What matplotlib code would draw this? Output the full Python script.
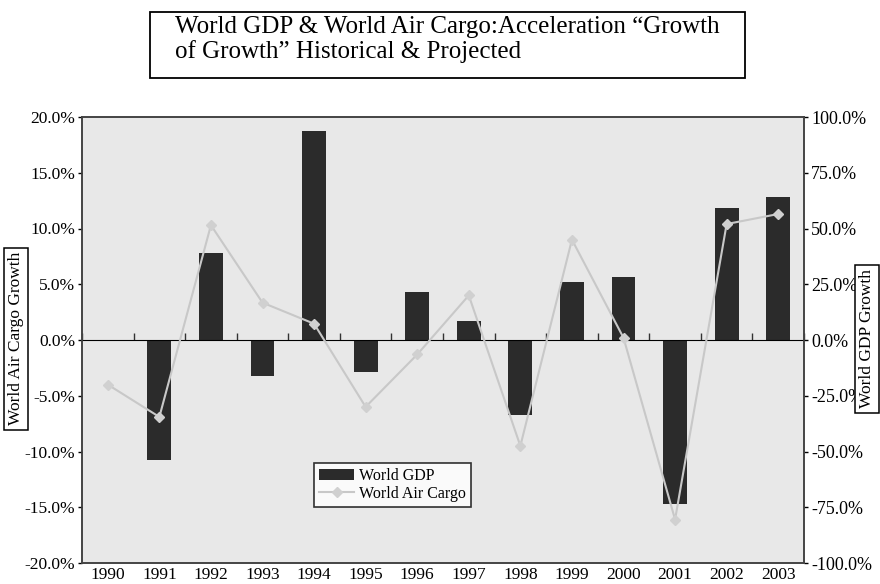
import matplotlib.pyplot as plt
import matplotlib.patches as patches
import numpy as np

plt.rcParams['font.family'] = ['Liberation Serif', 'DejaVu Serif']

# data
years = ['1990', '1991', '1992', '1993', '1994', '1995', '1996',
         '1997', '1998', '1999', '2000', '2001', '2002', '2003']
gdp = [0, -54, 39, -16, 93.5, -14.5, 21.5, 8.3, -33.5, 26, 28.3, -73.5, 59, 64]  # right axis, %
cargo = [-4.0, -6.9, 10.3, 3.35, 1.46, -6.0, -1.3, 4.0, -9.5, 9.0, 0.2, -16.1, 10.4, 11.3]  # left axis, %
left_ticks = [-20, -15, -10, -5, 0, 5, 10, 15, 20]
right_ticks = [-100, -75, -50, -25, 0, 25, 50, 75, 100]

fig = plt.figure(figsize=(8.8, 5.84), dpi=100)
ax = fig.add_axes([82/880, 21/584, 722/880, 446/584])
ax2 = ax.twinx()

x = np.arange(len(years))
ax.set_zorder(ax2.get_zorder() + 1)
ax.patch.set_visible(False)
ax2.patch.set_visible(True)
ax2.patch.set_facecolor('#e8e8e8')

# bars (GDP) on right axis
ax2.bar(x, gdp, width=0.46, color='#2b2b2b', label='World GDP', zorder=2)
# line (air cargo) on left axis
ax.plot(x, cargo, color='#c8c8c8', lw=1.5, marker='D', ms=5.5,
        mfc='#d0d0d0', mec='#d0d0d0', label='World Air Cargo', zorder=3)

ax.set_xlim(-0.5, len(years) - 0.5)
ax.set_ylim(-20, 20)
ax2.set_ylim(-100, 100)
ax.set_yticks(left_ticks)
ax.set_yticklabels(['%.1f%%' % v for v in left_ticks], fontsize=12.5)
ax2.set_yticks(right_ticks)
ax2.set_yticklabels(['%.1f%%' % v for v in right_ticks], fontsize=13)
ax.tick_params(axis='y', length=3, width=1, pad=2)
ax2.tick_params(axis='y', length=3, width=1, pad=2)

# category axis drawn at zero
ax.set_xticks([])
sec = ax.secondary_xaxis(0.5)
sec.set_xticks(np.arange(len(years) + 1) - 0.5)
sec.set_xticklabels([''] * (len(years) + 1))
sec.tick_params(axis='x', direction='out', length=5, width=1, color='#333333')
sec.spines['bottom'].set_color('#333333')
sec.spines['bottom'].set_linewidth(1.2)

for i, yr in enumerate(years):
    ax.text(i, -0.01, yr, transform=ax.get_xaxis_transform(),
            ha='center', va='top', fontsize=12.5)

for a in (ax, ax2):
    for s in a.spines.values():
        s.set_color('#444444')
        s.set_linewidth(1.2)

# legend
h1, l1 = ax2.get_legend_handles_labels()
h2, l2 = ax.get_legend_handles_labels()
leg = ax.legend(h1 + h2, l1 + l2, loc='center', bbox_to_anchor=(0.43, 0.175),
                fontsize=11.5, frameon=True, fancybox=False, edgecolor='black',
                handlelength=2.2, handletextpad=0.3, borderpad=0.3,
                labelspacing=0.1, borderaxespad=0)
leg.get_frame().set_linewidth(1.2)
leg.get_frame().set_facecolor('white')

# title box
fig.patches.append(patches.Rectangle((150/880, 1 - 78/584), 595/880, 66/584,
                                     transform=fig.transFigure, fill=False,
                                     lw=1.3, edgecolor='black'))
fig.text(175/880, 1 - 16/584,
         'World GDP & World Air Cargo:Acceleration \u201cGrowth\nof Growth\u201d Historical & Projected',
         ha='left', va='top', fontsize=18, linespacing=1.1)

# axis labels in boxes
fig.text(16/880, 0.42, 'World Air Cargo Growth', rotation=90, ha='center', va='center',
         fontsize=12.5, bbox=dict(boxstyle='square,pad=0.25', fc='white', ec='black', lw=1.1))
fig.text(867/880, 0.42, 'World GDP Growth', rotation=90, ha='center', va='center',
         fontsize=12.5, bbox=dict(boxstyle='square,pad=0.25', fc='white', ec='black', lw=1.1))

fig.savefig('out.png', dpi=100)
